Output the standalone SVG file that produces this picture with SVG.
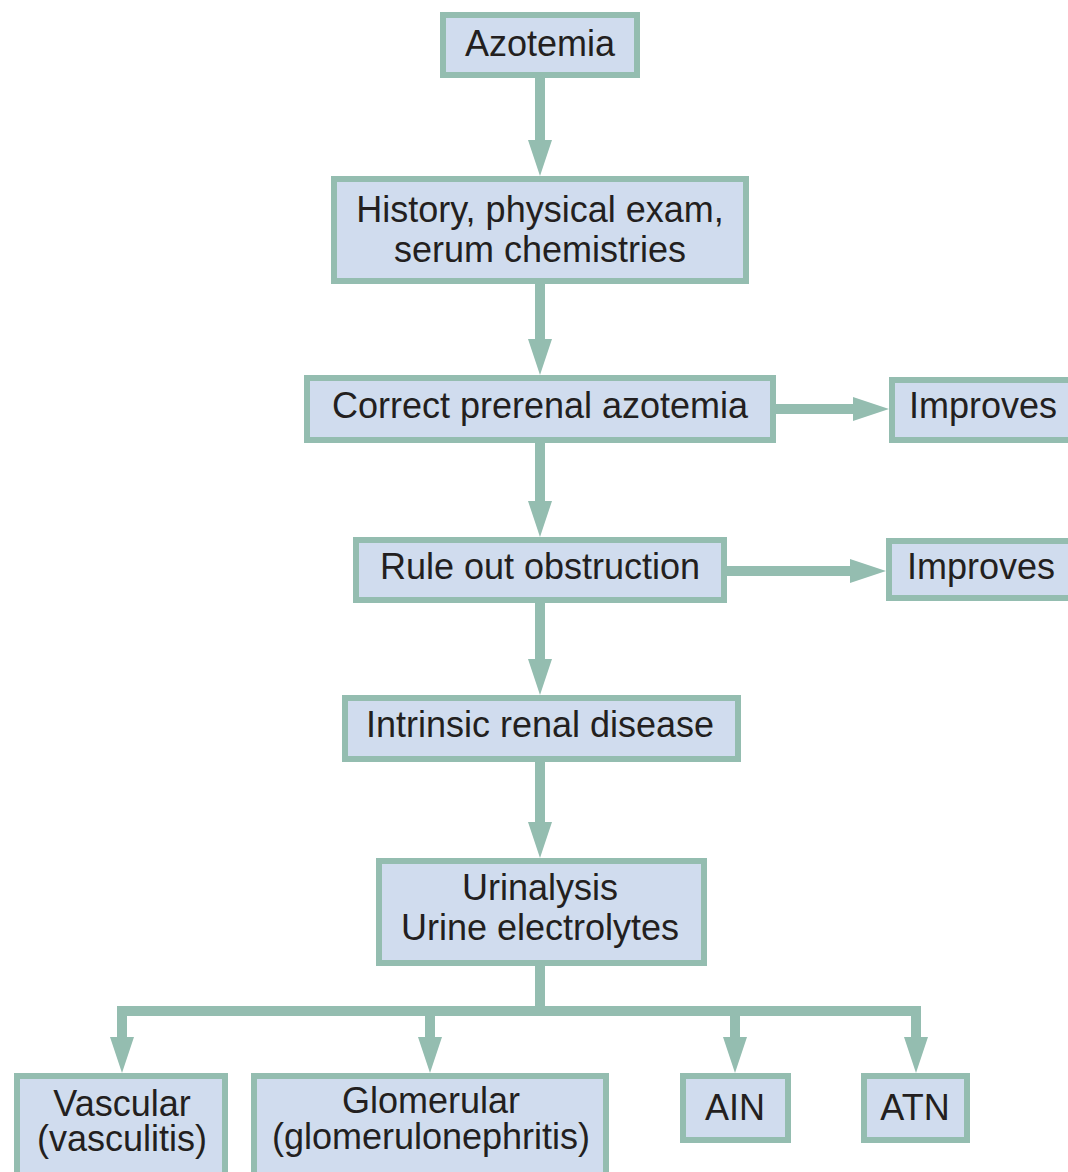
<svg xmlns="http://www.w3.org/2000/svg" width="1068" height="1172" viewBox="0 0 1068 1172">
<style>
.box{fill:#d0dcee;stroke:#94bdb0;stroke-width:6}
.t{font-family:"Liberation Sans",Arial,sans-serif;font-size:36px;fill:#231f20;text-anchor:middle}
.c{fill:none;stroke:#94bdb0;stroke-width:10}
</style>
<defs>
<marker id="ah" markerUnits="userSpaceOnUse" markerWidth="36" markerHeight="24" viewBox="0 0 36 24" refX="0" refY="12" orient="auto">
<path d="M0,0 L36,12 L0,24 Z" fill="#94bdb0"/>
</marker>
</defs>
<rect width="1068" height="1172" fill="#ffffff"/>
<g id="connectors">
<path class="c" d="M540,78 V140" marker-end="url(#ah)"/>
<path class="c" d="M540,284 V339" marker-end="url(#ah)"/>
<path class="c" d="M540,443 V501" marker-end="url(#ah)"/>
<path class="c" d="M540,603 V659" marker-end="url(#ah)"/>
<path class="c" d="M540,762 V822" marker-end="url(#ah)"/>
<path class="c" d="M776,409 H853" marker-end="url(#ah)"/>
<path class="c" d="M727,571 H850" marker-end="url(#ah)"/>
<path class="c" d="M540,966 V1011"/>
<path class="c" d="M122,1011 H916" stroke-linecap="square"/>
<path class="c" d="M122,1011 V1037" marker-end="url(#ah)"/>
<path class="c" d="M430,1011 V1037" marker-end="url(#ah)"/>
<path class="c" d="M735,1011 V1037" marker-end="url(#ah)"/>
<path class="c" d="M916,1011 V1037" marker-end="url(#ah)"/>
</g>
<g id="azotemia"><rect class="box" x="443" y="15" width="194" height="60"/><text class="t" x="540" y="56">Azotemia</text></g>
<g id="history"><rect class="box" x="334" y="179" width="412" height="102"/><text class="t" x="540" y="222">History, physical exam,</text><text class="t" x="540" y="262">serum chemistries</text></g>
<g id="correct"><rect class="box" x="307" y="378" width="466" height="62"/><text class="t" x="540" y="418">Correct prerenal azotemia</text></g>
<g id="improves1"><rect class="box" x="892" y="380" width="190" height="60"/><text class="t" x="983" y="418">Improves</text></g>
<g id="ruleout"><rect class="box" x="356" y="540" width="368" height="60"/><text class="t" x="540" y="579">Rule out obstruction</text></g>
<g id="improves2"><rect class="box" x="889" y="541" width="190" height="57"/><text class="t" x="981" y="579">Improves</text></g>
<g id="intrinsic"><rect class="box" x="345" y="698" width="393" height="61"/><text class="t" x="540" y="737">Intrinsic renal disease</text></g>
<g id="urinalysis"><rect class="box" x="379" y="861" width="325" height="102"/><text class="t" x="540" y="900">Urinalysis</text><text class="t" x="540" y="940">Urine electrolytes</text></g>
<g id="vascular"><rect class="box" x="17" y="1076" width="208" height="110"/><text class="t" x="122" y="1116">Vascular</text><text class="t" x="122" y="1151">(vasculitis)</text></g>
<g id="glomerular"><rect class="box" x="254" y="1076" width="352" height="110"/><text class="t" x="431" y="1113">Glomerular</text><text class="t" x="431" y="1149">(glomerulonephritis)</text></g>
<g id="ain"><rect class="box" x="683" y="1076" width="105" height="64"/><text class="t" x="735" y="1120">AIN</text></g>
<g id="atn"><rect class="box" x="864" y="1076" width="103" height="64"/><text class="t" x="915" y="1120">ATN</text></g>
</svg>
